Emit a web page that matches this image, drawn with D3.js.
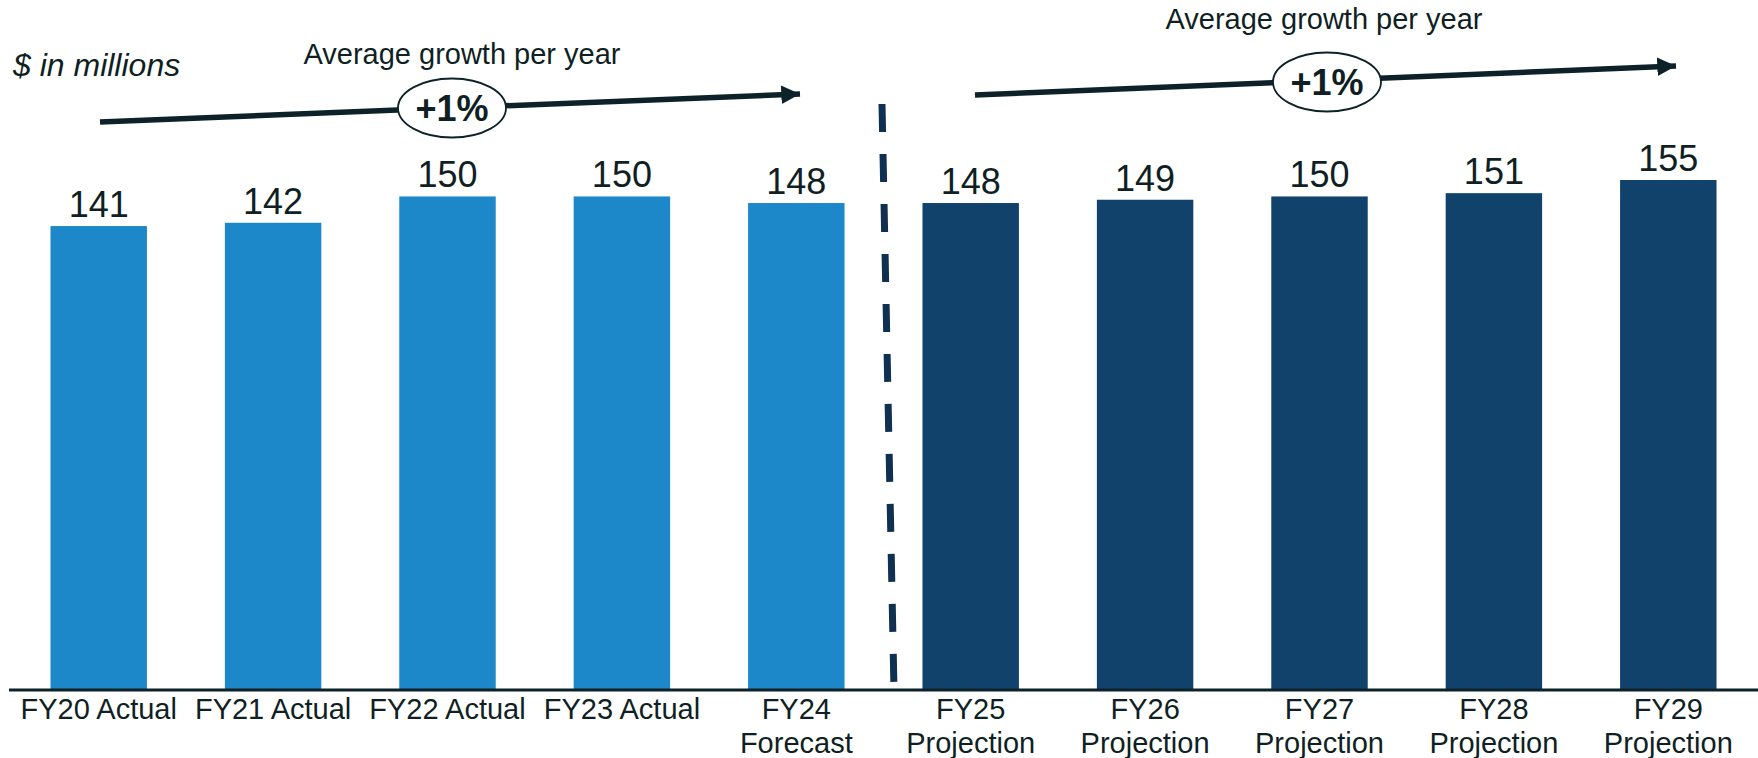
<!DOCTYPE html>
<html>

<head>
    <title>Revenue FY20-FY29</title>
    <script src="https://cdn.jsdelivr.net/npm/d3@7"></script>
    <style>
        body {
            margin: 0;
            background: #fff;
        }

        svg {
            display: block;
            font-family: "Liberation Sans", Arial, sans-serif;
        }
    </style>
</head>

<body>
    <svg width="1758" height="758"></svg>
    <script>
        // data
        const categories = ['FY20 Actual', 'FY21 Actual', 'FY22 Actual', 'FY23 Actual', 'FY24\nForecast',
            'FY25\nProjection', 'FY26\nProjection', 'FY27\nProjection', 'FY28\nProjection', 'FY29\nProjection']
        const values = [141, 142, 150, 150, 148, 148, 149, 150, 151, 155]
        const periodKind = ['actual', 'actual', 'actual', 'actual', 'actual',
            'projection', 'projection', 'projection', 'projection', 'projection']
        const growthLabels = ['+1%', '+1%']
        const growthTitle = 'Average growth per year'
        const unitNote = '$ in millions'

        const TEXT_COLOR = '#0f1f24'
        const ARROW_COLOR = '#0d2228'
        const BAR_COLORS = { actual: '#1c87c9', projection: '#11426c' }
        const DIVIDER_COLOR = '#0f3050'

        const svg = d3.select('svg')
        const baseY = 690

        const x = d3.scaleBand()
            .domain(categories)
            .range([11.5, 1755.5])
            .paddingInner(0.447)
            .paddingOuter(0.2235)

        const y = d3.scaleLinear()
            .domain([0, 155])
            .range([baseY, 180])

        // bars
        svg.append('g')
            .selectAll('rect')
            .data(values)
            .join('rect')
            .attr('x', (d, i) => x(categories[i]))
            .attr('y', d => y(d))
            .attr('width', x.bandwidth())
            .attr('height', d => baseY - y(d))
            .attr('fill', (d, i) => BAR_COLORS[periodKind[i]])

        // value labels
        svg.append('g')
            .selectAll('text')
            .data(values)
            .join('text')
            .attr('x', (d, i) => x(categories[i]) + x.bandwidth() / 2)
            .attr('y', d => y(d) - 9)
            .attr('text-anchor', 'middle')
            .attr('font-size', 36)
            .attr('fill', TEXT_COLOR)
            .text(d => d)

        // x axis
        const axis = svg.append('g')
            .attr('transform', `translate(0,${baseY})`)
            .call(d3.axisBottom(x).tickSize(0).tickPadding(8))
        axis.select('.domain')
            .attr('stroke', ARROW_COLOR)
            .attr('stroke-width', 3)
            .attr('d', 'M9,0H1758')
        axis.selectAll('.tick text')
            .attr('font-size', 29)
            .attr('font-family', '"Liberation Sans", Arial, sans-serif')
            .attr('fill', TEXT_COLOR)
            .each(function (d) {
                const t = d3.select(this)
                const lines = d.split('\n')
                t.text(null)
                lines.forEach((line, i) => {
                    t.append('tspan')
                        .attr('x', 0)
                        .attr('dy', i === 0 ? null : 34)
                        .text(line)
                })
            })

        // dashed divider between forecast and projection
        svg.append('line')
            .attr('x1', 882).attr('y1', 104)
            .attr('x2', 894).attr('y2', baseY)
            .attr('stroke', DIVIDER_COLOR)
            .attr('stroke-width', 7)
            .attr('stroke-dasharray', '28,22')

        // unit note
        svg.append('text')
            .attr('x', 13)
            .attr('y', 76)
            .attr('font-size', 32)
            .attr('font-style', 'italic')
            .attr('fill', TEXT_COLOR)
            .text(unitNote)

        // growth arrows
        svg.append('defs').append('marker')
            .attr('id', 'head')
            .attr('viewBox', '0 0 10 10')
            .attr('refX', 10).attr('refY', 5)
            .attr('markerWidth', 3.4).attr('markerHeight', 3.4)
            .attr('markerUnits', 'strokeWidth')
            .attr('orient', 'auto')
            .append('path')
            .attr('d', 'M0,0L10,5L0,10Z')
            .attr('fill', ARROW_COLOR)

        const arrows = [
            { x1: 100, y1: 122, x2: 802, y2: 94, cx: 452, cy: 108, titleX: 462, titleY: 64 },
            { x1: 975, y1: 95, x2: 1678, y2: 66, cx: 1327, cy: 82, titleX: 1324, titleY: 29 }
        ]

        arrows.forEach((a, i) => {
            const g = svg.append('g')
            g.append('text')
                .attr('x', a.titleX)
                .attr('y', a.titleY)
                .attr('text-anchor', 'middle')
                .attr('font-size', 29)
                .attr('fill', TEXT_COLOR)
                .text(growthTitle)
            g.append('line')
                .attr('x1', a.x1).attr('y1', a.y1)
                .attr('x2', a.x2 - 2).attr('y2', a.y2)
                .attr('stroke', ARROW_COLOR)
                .attr('stroke-width', 5.5)
                .attr('marker-end', 'url(#head)')
            g.append('ellipse')
                .attr('cx', a.cx).attr('cy', a.cy)
                .attr('rx', 54).attr('ry', 29.5)
                .attr('fill', '#fff')
                .attr('stroke', ARROW_COLOR)
                .attr('stroke-width', 1.8)
            g.append('text')
                .attr('x', a.cx)
                .attr('y', a.cy + 13)
                .attr('text-anchor', 'middle')
                .attr('font-size', 36)
                .attr('font-weight', 'bold')
                .attr('fill', TEXT_COLOR)
                .text(growthLabels[i])
        })
    </script>
</body>

</html>
